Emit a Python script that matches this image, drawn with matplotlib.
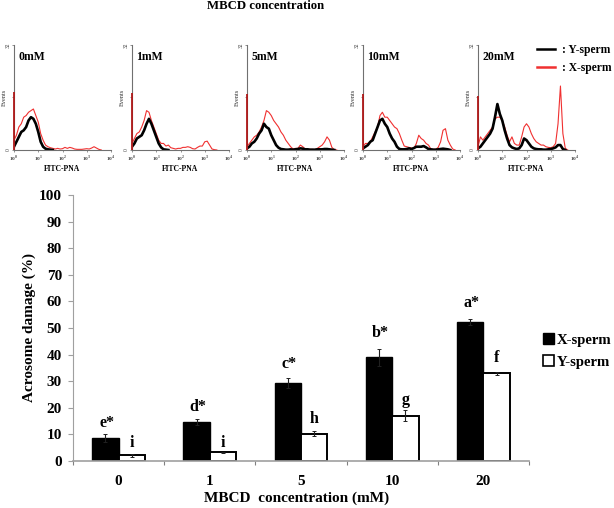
import numpy as np
from matplotlib import pyplot as plt
from matplotlib.lines import Line2D
from matplotlib.patches import Patch

plt.rcParams['font.family'] = ['Liberation Serif', 'DejaVu Sans']
plt.rcParams['font.weight'] = 'bold'
plt.rcParams['axes.labelweight'] = 'bold'
plt.rcParams['mathtext.fontset'] = 'custom'
plt.rcParams['mathtext.rm'] = 'Liberation Serif'

# bar chart values
doses = ['0', '1', '5', '10', '20']
x_sperm = [8.6, 14.7, 29.3, 39.0, 52.2]
x_err = [1.4, 1.2, 2.0, 3.2, 1.0]
y_sperm = [2.2, 3.2, 10.2, 17.0, 33.0]
y_err = [0.6, 0.2, 0.9, 2.0, 0.6]
x_letters = ['e*', 'd*', 'c*', 'b*', 'a*']
y_letters = ['i', 'i', 'h', 'g', 'f']

# histograms, events every 0.1 decade starting at 10^0
panel_names = ['0mM', '1mM', '5mM', '10mM', '20mM']
spikes = [17.7, 17.5, 17.0, 17.0, 16.5]
red_0 = [3, 4.5, 7, 8, 10, 10.5, 11.5, 12, 12.5, 10.5, 8.5, 5, 3, 1.5, 1, 0.7, 0.5, 0.3, 0.5, 0.3,
         0.4, 0.8, 0.5, 0.8, 0.6, 0.3, 0.2, 0.2, 0.2, 0.3, 0.4, 0.3, 0.6, 1, 0.6, 0.2, 0]
black_0 = [1, 2.5, 4, 5.5, 6, 7, 9, 10, 9.5, 8, 5.5, 2.5, 1, 0.4, 0.2, 0.1, 0]
red_1 = [2, 3.5, 5, 5.5, 7, 9, 12, 11.5, 9, 7, 5, 3, 2, 2, 1.2, 1.5, 0.7, 0.5, 0.3, 0.5,
         0.5, 0.8, 0.8, 1, 0.8, 0.4, 0.3, 0.8, 1.2, 1.2, 2.5, 2.7, 1.5, 0.3, 0.1, 0]
black_1 = [1, 2, 3.5, 4, 4.5, 6, 8, 9.5, 8, 6, 4, 2, 0.8, 0.2, 0.1, 0]
red_2 = [1, 2, 3, 4, 4.5, 5.5, 7, 9, 12, 11.5, 10.5, 9, 8, 7, 5.5, 4.5, 3, 2, 1, 0.3,
         0.5, 0.5, 1.5, 1, 0.3, 0.2, 0.2, 0.2, 0.1, 0.5, 1, 1.5, 2.5, 4, 3, 0.8, 0.1, 0]
black_2 = [0.5, 1, 2, 2.5, 3.5, 5, 6, 8, 7, 6.5, 4.5, 3, 1.5, 0.7, 0.3, 0.2, 0.1, 0.1, 0.2, 0.1,
           0.2, 0.3, 0.5, 0.4, 0.2, 0.2, 0.1, 0.1, 0.1, 0.2, 0.2, 0.2, 0.3, 0.3, 0.2, 0.1, 0]
red_3 = [1, 2, 2, 2.5, 4, 5.5, 7, 10.5, 11.5, 10, 10, 9, 8, 7, 6.5, 5, 3, 1.2, 1, 0.8,
         0.6, 0.5, 2, 4.5, 3.5, 3, 2, 1.5, 0.3, 0.2, 0.2, 0.8, 2.5, 6, 6.5, 3, 1.5, 0.3, 0]
black_3 = [0.5, 1, 1.5, 2.5, 3, 5, 7, 9, 9.5, 8, 7, 5, 3.5, 2.5, 1, 0.3, 0.2, 0.2, 0.3, 0.5,
           0.3, 0.6, 1, 1, 1, 1.2, 0.8, 0.3, 0.2, 0.1, 0.1, 0.2, 0.3, 0.4, 0.3, 0.2, 0]
red_4 = [1, 4, 3, 4, 5, 6, 7, 9.5, 10, 10, 9, 7, 4.5, 2.5, 4, 2, 1.5, 1.5, 4, 7,
         8, 7, 5, 3.5, 2.5, 2, 1.5, 1.5, 1, 0.8, 0.7, 1, 2, 8, 19.5, 5, 0.5, 0]
black_4 = [0.5, 1, 2, 3, 4, 5, 6.5, 10, 14, 11, 9, 6, 3.5, 1.5, 0.8, 0.5, 0.3, 0.5, 1.5, 3.5,
           3, 2, 1, 0.5, 0.3, 0.2, 0.2, 0.1, 0.1, 0.2, 0.3, 0.5, 0.8, 1.5, 1.5, 0.3, 0]
reds = [red_0, red_1, red_2, red_3, red_4]
blacks = [black_0, black_1, black_2, black_3, black_4]

W, H = 614, 508
fig = plt.figure(figsize=(W / 100, H / 100), dpi=100)


def px_axes(left, top, right, bottom):
    return fig.add_axes([left / W, 1 - bottom / H, (right - left) / W, (bottom - top) / H])


# top row of histograms
panel_left = [14, 132, 247, 363, 478]
for i, left in enumerate(panel_left):
    ax = px_axes(left, 45, left + 97, 150)
    ax.set_xscale('log')
    ax.set_xlim(1, 1e4)
    ax.set_ylim(0, 32)
    logx = np.arange(len(reds[i])) * 0.1
    ax.plot(10 ** logx, reds[i], color='#f03030', lw=0.8)
    logx = np.arange(len(blacks[i])) * 0.1
    ax.plot(10 ** logx, blacks[i], color='k', lw=1.9)
    ax.vlines(1, 0, spikes[i], color='#b01818', lw=1.3, zorder=5, clip_on=False)
    for s in ['top', 'right']:
        ax.spines[s].set_visible(False)
    ax.spines['left'].set_color('#707070')
    ax.spines['bottom'].set_color('#707070')
    ax.set_yticks([0, 16, 32])
    ax.set_yticklabels(['0', '', '32'], rotation=90, va='center', fontsize=4, fontweight='normal')
    ax.set_xticks([1, 10, 100, 1000, 10000])
    ax.set_xticklabels(['$10^%d$' % k for k in range(5)], fontsize=3.8)
    ax.tick_params(length=1.5, width=0.4, pad=0.8, colors='#404040')
    ax.tick_params(which='minor', length=0.8, width=0.3, colors='#606060')
    ax.set_ylabel('Events', fontsize=4.5, fontweight='normal', labelpad=-1, color='#303030')
    ax.set_xlabel('FITC-PNA', fontsize=5.5, labelpad=1.5)
    ax.text(0.045, 0.89, panel_names[i], transform=ax.transAxes, fontsize=8.5, va='center')

fig.text(266 / W, 1 - 6 / H, 'MBCD concentration', ha='center', va='center', fontsize=9.2)

top_handles = [Line2D([], [], color='k', lw=1.8), Line2D([], [], color='#f03030', lw=1.8)]
fig.legend(top_handles, [': Y-sperm', ': X-sperm'], loc='center left',
           bbox_to_anchor=(537 / W, 1 - 59 / H), frameon=False, fontsize=8.3,
           handlelength=1.55, handletextpad=0.6, labelspacing=0.55, borderpad=0, borderaxespad=0)

# bar chart
ax = px_axes(73, 195, 529, 461)
pos = np.arange(len(doses)) + 0.5
bar_w = 0.29
ax.bar(pos - bar_w / 2, x_sperm, bar_w, color='k', edgecolor='k', lw=1,
       yerr=x_err, error_kw=dict(ecolor='#202020', elinewidth=0.8, capsize=1.5, capthick=0.7))
ax.bar(pos + bar_w / 2, y_sperm, bar_w, color='w', edgecolor='k', lw=1.4,
       yerr=y_err, error_kw=dict(ecolor='#202020', elinewidth=0.8, capsize=1.5, capthick=0.7))

# gap in pixels between error bar and letter
x_gaps = [7, 7.5, 10, 12, 12]
y_gaps = [6.5, 5, 8, 6.5, 10]
for i in range(len(doses)):
    ax.annotate(x_letters[i], (pos[i] - bar_w / 2, x_sperm[i] + x_err[i]),
                xytext=(1, x_gaps[i] * 0.72), textcoords='offset points',
                ha='center', va='baseline', fontsize=11.5)
    ax.annotate(y_letters[i], (pos[i] + bar_w / 2, y_sperm[i] + y_err[i]),
                xytext=(0, y_gaps[i] * 0.72), textcoords='offset points',
                ha='center', va='baseline', fontsize=11.5)

ax.set_xlim(0, 5)
ax.set_ylim(0, 100)
for s in ['top', 'right']:
    ax.spines[s].set_visible(False)
ax.spines['left'].set_color('#a0a0a0')
ax.spines['bottom'].set_color('#a0a0a0')
ax.spines['bottom'].set_linewidth(1.2)
ax.set_yticks(range(0, 101, 10))
ax.set_xticks(range(6))
ax.set_xticklabels([])
ax.set_xticks(pos, minor=True)
ax.set_xticklabels(doses, minor=True)
ax.tick_params(axis='y', length=3.5, width=0.8, color='#a0a0a0', labelsize=11, pad=4.5)
ax.tick_params(axis='x', which='major', length=3, width=0.8, color='#808080')
ax.tick_params(axis='x', which='minor', length=0, labelsize=11, pad=10)
ax.set_ylabel('Acrosome damage (%)', fontsize=11, labelpad=2)
ax.set_xlabel('MBCD  concentration (mM)', fontsize=11, labelpad=2.5, x=0.49)

bar_handles = [Patch(facecolor='k', edgecolor='k'), Patch(facecolor='w', edgecolor='k', lw=1.2)]
fig.legend(bar_handles, ['X-sperm', 'Y-sperm'], loc='center left',
           bbox_to_anchor=(543 / W, 1 - 351 / H), frameon=False, fontsize=10.6,
           handlelength=0.75, handleheight=0.75, handletextpad=0.2, labelspacing=0.55,
           borderpad=0, borderaxespad=0)

fig.savefig('out.png', dpi=100)
plt.close(fig)
